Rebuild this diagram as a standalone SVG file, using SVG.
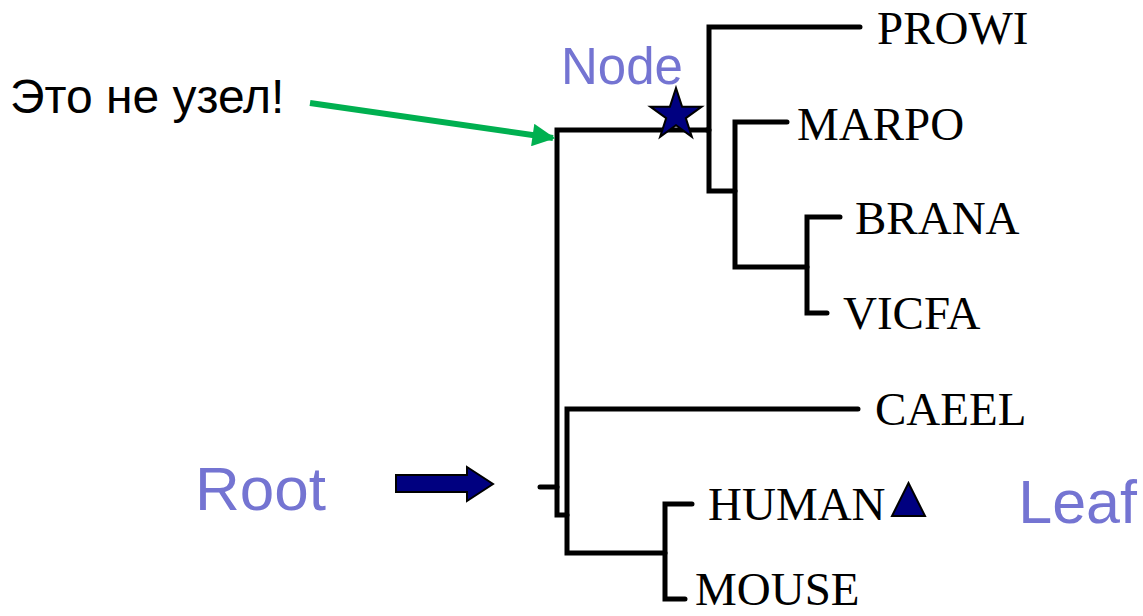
<svg xmlns="http://www.w3.org/2000/svg" width="1143" height="616" viewBox="0 0 1143 616">
<style>
.br{fill:none;stroke:#000;stroke-width:5;stroke-linecap:round;stroke-linejoin:miter}
.leaf{font-family:"Liberation Serif","Times New Roman",serif;font-size:47px;fill:#000}
.lab{font-family:"Liberation Sans",Arial,sans-serif;fill:#7474d2}
.mark{fill:#000080;stroke:#000;stroke-width:2}
</style>
<defs>
<marker id="gh" viewBox="0 0 10 10" refX="9" refY="5" markerWidth="4.4" markerHeight="3.8" orient="auto" markerUnits="strokeWidth">
<path d="M0,0 L10,5 L0,10 Z" fill="#00b050"/>
</marker>
</defs>
<rect width="1143" height="616" fill="#fff"/>
<g id="connectors">
<path class="br" d="M540,487 H557"/>
<path class="br" d="M707,130 H557 V515 H567"/>
<path class="br" d="M860,27 H709 V191 H735"/>
<path class="br" d="M709,130 H707"/>
<path class="br" d="M787,122 H735 V267 H807"/>
<path class="br" d="M840,217 H807 V313 H827"/>
<path class="br" d="M858,409 H567 V553 H665"/>
<path class="br" d="M692,504 H665 V599 H685"/>
<line x1="310" y1="103" x2="553" y2="138" stroke="#00b050" stroke-width="6" marker-end="url(#gh)"/>
<polygon class="mark" points="396,475 467,475 467,467 493,484 467,501 467,492 396,492"/>
</g>
<g id="PROWI"><text class="leaf" x="877" y="44">PROWI</text></g>
<g id="MARPO"><text class="leaf" x="797" y="140">MARPO</text></g>
<g id="BRANA"><text class="leaf" x="855" y="234">BRANA</text></g>
<g id="VICFA"><text class="leaf" x="843" y="329">VICFA</text></g>
<g id="CAEEL"><text class="leaf" x="875" y="425">CAEEL</text></g>
<g id="HUMAN"><text class="leaf" x="708" y="520">HUMAN</text>
<polygon class="mark" points="892,516 925,516 908.5,483"/></g>
<g id="MOUSE"><text class="leaf" x="695" y="605">MOUSE</text></g>
<g id="node-label"><text class="lab" x="561" y="84" font-size="51">Node</text>
<polygon class="mark" points="676,88 682.06,106.67 701.68,106.66 685.8,118.18 691.87,136.84 676,125.3 660.13,136.84 666.2,118.18 650.32,106.66 669.94,106.67"/></g>
<g id="root-label"><text class="lab" x="195" y="510" font-size="62">Root</text></g>
<g id="leaf-label"><text class="lab" x="1137" y="523" font-size="61" text-anchor="end">Leaf</text></g>
<g id="not-node"><text x="10" y="113" font-family="'Liberation Sans',Arial,sans-serif" font-size="48" fill="#000">Это не узел!</text></g>
</svg>
